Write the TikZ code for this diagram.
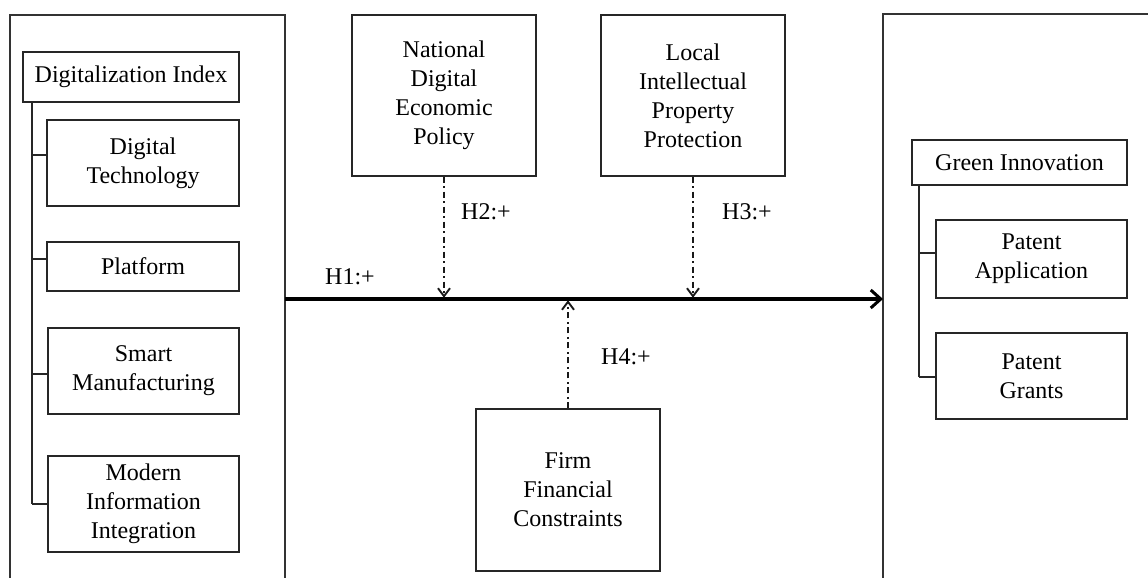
\documentclass[tikz,border=0pt]{standalone}
\usepackage{fontspec}
\setmainfont{Liberation Serif}
\usetikzlibrary{arrows.meta}
\begin{document}
\begin{tikzpicture}[x=1pt,y=-1pt,
  bx/.style={draw=black!85, line width=1.2pt, inner sep=0pt, align=center, font=\fontsize{24}{29}\selectfont},
  frame/.style={draw=black!80, line width=1.3pt},
  link/.style={draw=black!85, line width=1.2pt},
  mod/.style={draw=black!90, line width=1.5pt, dash pattern=on 6pt off 3.5pt on 2pt off 3.5pt, -{Straight Barb[length=8pt,width=12pt,line width=1.9pt]}, shorten >=1.2pt},
  main/.style={draw=black, line width=3.4pt, -{Straight Barb[length=10pt,width=18pt,line width=3pt]}},
  lbl/.style={font=\fontsize{24}{29}\selectfont, inner sep=0pt}]
\useasboundingbox (0,0) rectangle (1148,578);
\fill[white] (0,0) rectangle (1148,578);

% frames
\coordinate (lfbl) at (10,578);
\coordinate (lftl) at (10,15);
\coordinate (lftr) at (285,15);
\coordinate (lfbr) at (285,578);
\draw[frame] (lfbl) -- (lftl) -- (lftr) -- (lfbr);
\coordinate (rfbl) at (883,578);
\coordinate (rftl) at (883,14);
\coordinate (rftr) at (1148,14);
\draw[frame] (rfbl) -- (rftl) -- (rftr);

% left group
\node[bx, minimum width=216pt, minimum height=50pt] (di) at (131,77) {Digitalization Index};
\node[bx, minimum width=192pt, minimum height=86pt] (dt) at (143,163) {Digital\\Technology};
\node[bx, minimum width=192pt, minimum height=49pt] (pf) at (143,266.5) {Platform};
\node[bx, minimum width=191pt, minimum height=86pt] (sm) at (143.5,371) {Smart\\Manufacturing};
\node[bx, minimum width=191pt, minimum height=96pt] (mii) at (143.5,504) {Modern\\Information\\Integration};
\coordinate (lsT) at (32,102);
\coordinate (lsB) at (32,504);
\draw[link] (lsT) -- (lsB);
\coordinate (t1) at ([yshift=8pt]dt.west);
\coordinate (t2) at ([yshift=7.5pt]pf.west);
\coordinate (t3) at ([yshift=-3pt]sm.west);
\coordinate (t4) at (mii.west);
\draw[link] (t1) -- (t1 -| lsT);
\draw[link] (t2) -- (t2 -| lsT);
\draw[link] (t3) -- (t3 -| lsT);
\draw[link] (t4) -- (t4 -| lsT);

% right group
\node[bx, minimum width=215pt, minimum height=45pt] (gi) at (1019.5,162.5) {Green Innovation};
\node[bx, minimum width=191pt, minimum height=78pt] (pa) at (1031.5,259) {Patent\\Application};
\node[bx, minimum width=191pt, minimum height=86pt] (pg) at (1031.5,376) {Patent\\Grants};
\coordinate (rsT) at (919,185);
\coordinate (rsB) at (919,377);
\draw[link] (rsT) -- (rsB);
\coordinate (u1) at ([yshift=6pt]pa.west);
\coordinate (u2) at ([yshift=-1pt]pg.west);
\draw[link] (u1) -- (u1 -| rsT);
\draw[link] (u2) -- (u2 -| rsT);

% moderators
\node[bx, minimum width=184pt, minimum height=161pt] (ndep) at (444,95.5) {National\\Digital\\Economic\\Policy};
\node[bx, minimum width=184pt, minimum height=161pt] (lipp) at (693,95.5) {Local\\Intellectual\\Property\\Protection};
\node[bx, minimum width=184pt, minimum height=162pt] (ffc) at (568,490) {Firm\\Financial\\Constraints};

% main path
\coordinate (h1s) at (285,299);
\coordinate (h1e) at (883,299);
\draw[main] (h1s) -- (h1e);

\draw[mod] (ndep.south) -- (ndep.south |- h1s);
\draw[mod] (lipp.south) -- (lipp.south |- h1s);
\draw[mod] (ffc.north) -- (ffc.north |- h1s);

% labels
\node[lbl] (l1) at (350,277) {H1:+};
\node[lbl] (l2) at (486,212) {H2:+};
\node[lbl] (l3) at (747,212) {H3:+};
\node[lbl] (l4) at (626,357) {H4:+};
\end{tikzpicture}
\end{document}
